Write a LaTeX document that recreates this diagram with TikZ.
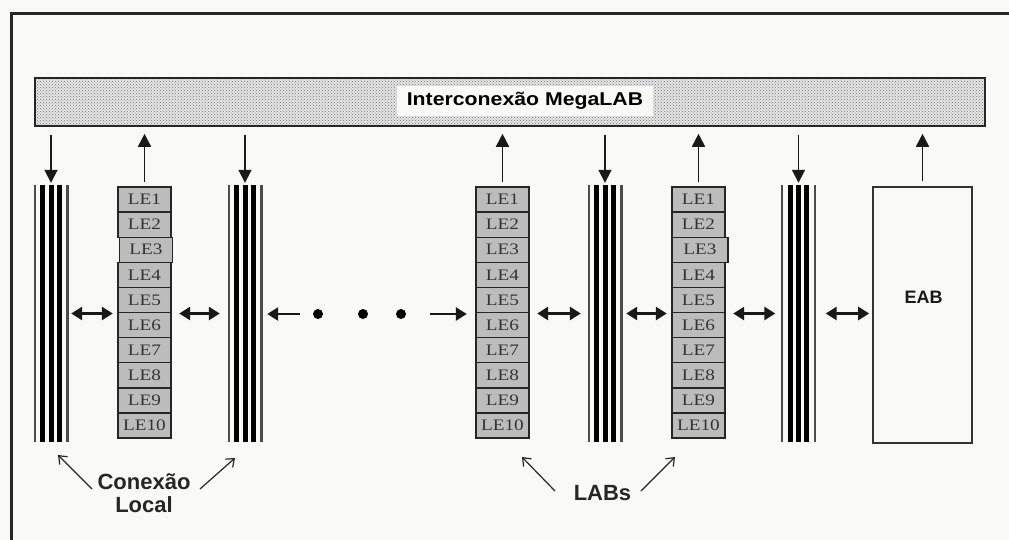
\documentclass[tikz,border=0pt]{standalone}
\usepackage{fontspec}
\setmainfont{Liberation Serif}
\setsansfont{Liberation Sans}
\usetikzlibrary{arrows.meta,patterns,calc}
\definecolor{bg}{RGB}{249,249,247}
\definecolor{lefill}{RGB}{188,188,188}
\tikzset{
 lecell/.style={draw=black!85, line width=1.4pt, fill=lefill, minimum width=53pt, minimum height=25.1pt, inner sep=0pt, text=black!80, font=\fontsize{16}{16}\selectfont},
 leblock/.style={minimum width=53pt, minimum height=251pt, inner sep=0pt},
 busnode/.style={minimum width=36pt, minimum height=257pt, inner sep=0pt, path picture={
   \foreach \dx/\w/\c in {-16.5/2/black!70, -8.5/5/black, 0/5/black, 8.3/5/black, 16.5/2.4/black!70}
     \draw[line width=\w pt, draw=\c] ([xshift=\dx pt]path picture bounding box.north) -- ([xshift=\dx pt]path picture bounding box.south);
 }},
 megabar/.style={draw=black!85, line width=1.6pt, minimum width=950pt, minimum height=48pt, inner sep=0pt, preaction={fill=black!10}, pattern=crosshatch dots, pattern color=black!55},
 megatext/.style={fill=bg, minimum width=256pt, minimum height=30pt, inner sep=0pt, text height=13.5pt, text depth=4pt, font=\sffamily\bfseries\fontsize{18.5}{18.5}\selectfont},
 eabbox/.style={draw=black!80, line width=1.6pt, fill=bg, minimum width=99pt, minimum height=256pt, inner sep=0pt},
 varrow/.style={line width=1.7pt, black!90, -{Triangle[length=13pt,width=13pt]}},
 harrow/.style={line width=2.6pt, black!90, {Triangle[length=11pt,width=13pt]}-{Triangle[length=11pt,width=13pt]}},
 sarrow/.style={line width=2.6pt, black!90, -{Triangle[length=11pt,width=13pt]}},
 larrow/.style={line width=1.2pt, black!85, -{Straight Barb[length=7pt,width=11pt]}},
 lbl/.style={font=\sffamily\bfseries\fontsize{22}{23}\selectfont, text=black!85, align=center, inner sep=0pt},
 smalllbl/.style={font=\sffamily\bfseries\fontsize{18}{18}\selectfont, text=black!90, inner sep=0pt},
 dot/.style={circle, fill=black, minimum size=10pt, inner sep=0pt},
}
\begin{document}
\begin{tikzpicture}[x=1pt,y=-1pt]
\fill[bg] (0,0) rectangle (1009,539);
\useasboundingbox (0,0) rectangle (1009,539);
% frame
\draw[line width=3pt, black!85] (1015,13.5) -- (11.5,13.5) -- (11.5,545);
% MegaLAB bar
\node[megabar] (mega) at (510,102) {};
\node[megatext] (megat) at (525,101) {\scalebox{1.15}[1]{Interconexão MegaLAB}};
% buses
\node[busnode] (B1) at (51,313.5) {};
\node[busnode] (B2) at (245,313.5) {};
\node[busnode] (B3) at (605,313.5) {};
\node[busnode] (B4) at (798.5,313.5) {};
% LE blocks
\node[leblock] (A) at (144.5,312.5) {};
\node[leblock] (Bk) at (502.5,312.5) {};
\node[leblock] (C) at (698.5,312.5) {};
\foreach \i in {1,2,4,5,6,7,8,9,10} {
  \node[lecell] (A-\i) at (144.5,{187+25.1*(\i-0.5)}) {\scalebox{1.2}[1]{LE\i}};
  \node[lecell] (C-\i) at (698.5,{187+25.1*(\i-0.5)}) {\scalebox{1.2}[1]{LE\i}};
}
\node[lecell] (A-3) at (146,{187+25.1*2.5}) {\scalebox{1.2}[1]{LE3}};
\node[lecell, minimum width=56pt] (C-3) at (700,{187+25.1*2.5}) {\scalebox{1.2}[1]{LE3}};
\foreach \i in {1,...,10} {
  \node[lecell] (Bk-\i) at (502.5,{187+25.1*(\i-0.5)}) {\scalebox{1.2}[1]{LE\i}};
}
% EAB
\node[eabbox] (eab) at (922.5,315) {};
\node[smalllbl, anchor=base] (eabt) at (923.5,303) {EAB};
% vertical arrows
\draw[varrow, shorten <=8pt, shorten >=2pt] (mega.south -| B1.north) -- (B1.north);
\draw[varrow, shorten <=8pt, shorten >=2pt] (mega.south -| B2.north) -- (B2.north);
\draw[varrow, shorten <=8pt, shorten >=2pt] (mega.south -| B3.north) -- (B3.north);
\draw[varrow, shorten <=8pt, shorten >=2pt] (mega.south -| B4.north) -- (B4.north);
\draw[varrow, shorten <=5pt, shorten >=7pt] (A.north) -- (A.north |- mega.south);
\draw[varrow, shorten <=5pt, shorten >=7pt] (Bk.north) -- (Bk.north |- mega.south);
\draw[varrow, shorten <=5pt, shorten >=7pt] (C.north) -- (C.north |- mega.south);
\draw[varrow, shorten <=5pt, shorten >=7pt] (eab.north) -- (eab.north |- mega.south);
% horizontal arrows
\draw[harrow, shorten <=2pt, shorten >=5pt] (B1.east) -- (B1.east -| A.west);
\draw[harrow, shorten <=8pt, shorten >=7pt] (B2.west -| A.east) -- (B2.west);
\coordinate (gl) at (300,314);
\coordinate (gr) at (430,314);
\draw[sarrow, shorten >=4pt] (gl) -- (gl -| B2.east);
\node[dot] (d1) at (318,314) {};
\node[dot] (d2) at (363,314) {};
\node[dot] (d3) at (401,314) {};
\draw[sarrow, shorten >=9pt] (gr) -- (gr -| Bk.west);
\draw[harrow, shorten <=8pt, shorten >=6pt] (B3.west -| Bk.east) -- (B3.west);
\draw[harrow, shorten <=3pt, shorten >=5pt] (B3.east) -- (B3.east -| C.west);
\draw[harrow, shorten <=8pt, shorten >=5pt] (B4.west -| C.east) -- (B4.west);
\draw[harrow, shorten <=9pt, shorten >=3pt] (B4.east) -- (B4.east -| eab.west);
% labels
\node[lbl] (conex) at (144,493) {Conexão\\Local};
\node[lbl, anchor=base] (labs) at (602.5,500) {LABs};
\coordinate (c1s) at (92,489);
\coordinate (c1e) at (58,455);
\coordinate (c2s) at (200,489);
\coordinate (c2e) at (235,458);
\coordinate (l1s) at (555,491);
\coordinate (l1e) at (522,457);
\coordinate (l2s) at (641,491);
\coordinate (l2e) at (675,457);
\draw[larrow] (c1s) -- (c1e);
\draw[larrow] (c2s) -- (c2e);
\draw[larrow] (l1s) -- (l1e);
\draw[larrow] (l2s) -- (l2e);
\end{tikzpicture}
\end{document}
